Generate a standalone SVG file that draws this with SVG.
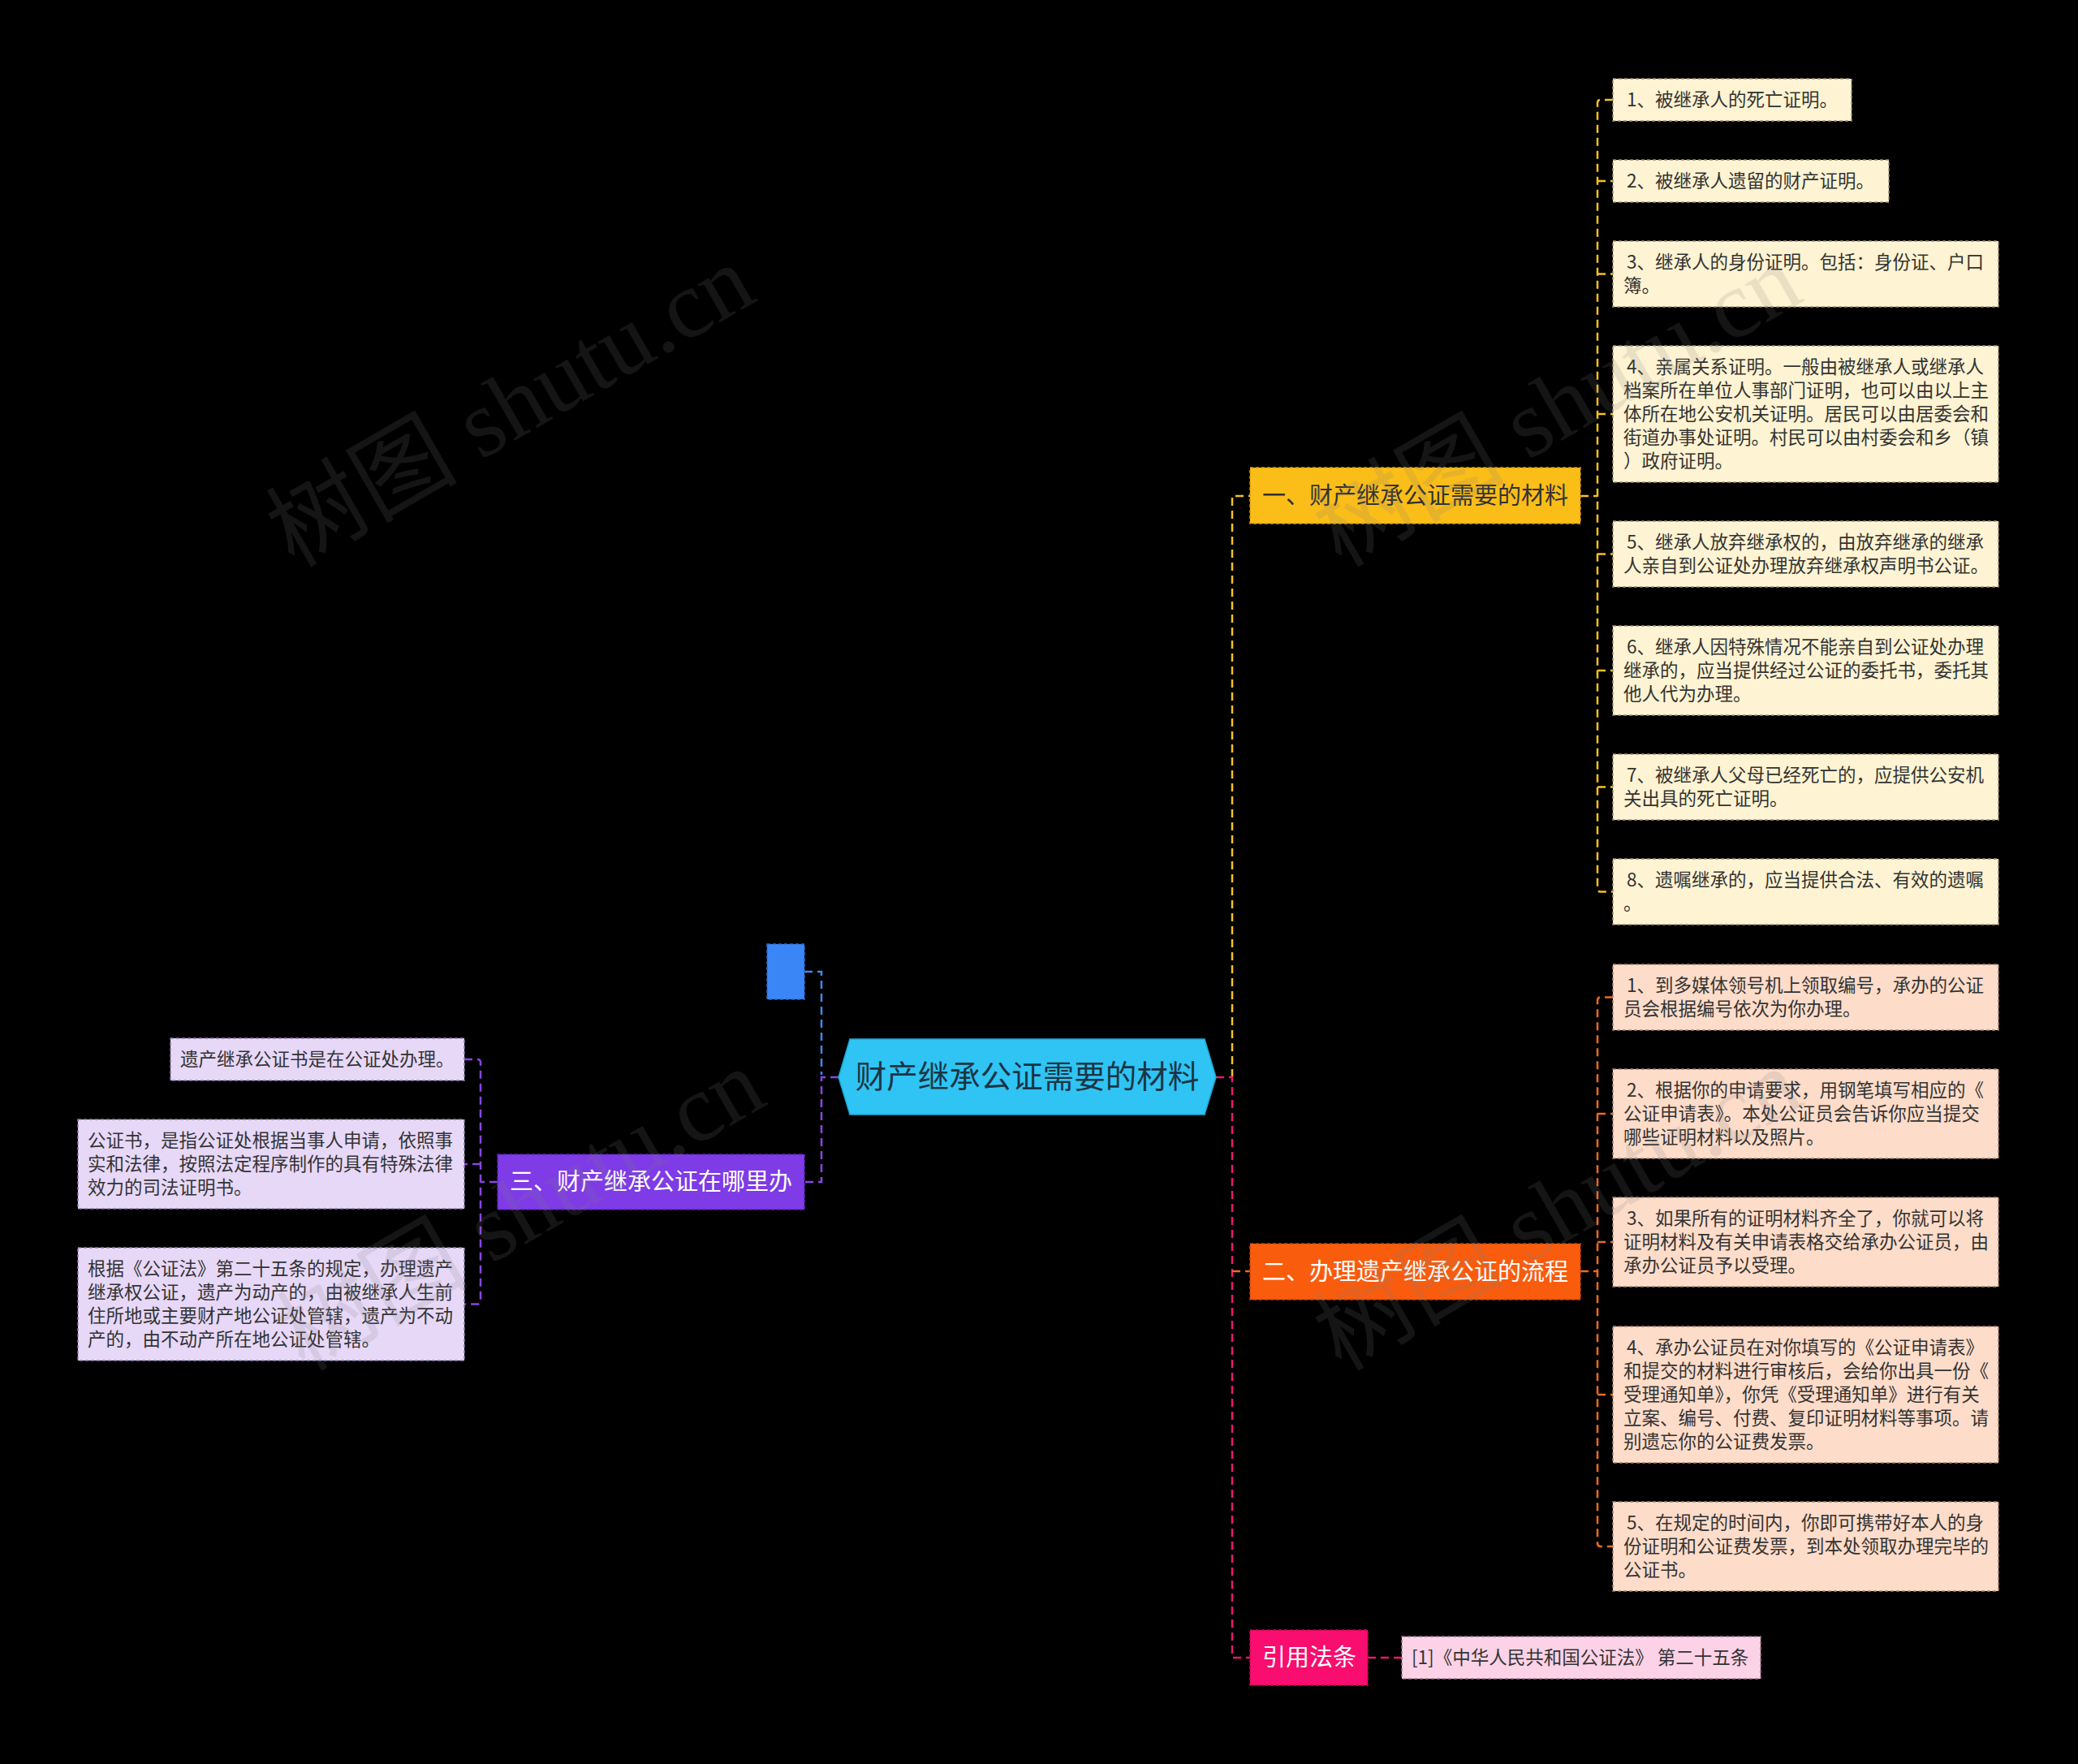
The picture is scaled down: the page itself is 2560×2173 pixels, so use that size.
<svg xmlns="http://www.w3.org/2000/svg" width="2560" height="2173" viewBox="0 0 2560 2173">
<defs>
<style>
text{font-family:"Noto Sans CJK SC","Noto Sans",sans-serif}
.leaf{font-size:22.5px;fill:#333333}
.br{font-size:29px}
.c{fill:none;stroke-width:2.5;stroke-dasharray:10 6}
.cy{stroke:#F5C21B}
.co{stroke:#F06A1C}
.cp{stroke:#E8196E}
.cv{stroke:#8A44E6}
.cb{stroke:#3F86EE}
.lb{stroke-width:1.5;stroke-dasharray:4 3}
.wm{font-family:"Liberation Serif","Noto Sans CJK SC",serif;font-size:118px;fill:#808080;opacity:0.16}
</style>
</defs>
<rect width="2560" height="2173" fill="#000000"/>

<g id="connectors">
<path class="c cy" d="M1518 1327 V611 H1540"/>
<path class="c cp" d="M1498 1327 H1518 V2042 H1540"/>
<path class="c co" d="M1518 1566 H1540"/>
<path class="c cy" d="M1947 611 H1968"/>
<path class="c cy" d="M1987 123 H1972 Q1968 123 1968 127 V1094.5 Q1968 1098.5 1972 1098.5 H1987"/>
<path class="c cy" d="M1968 223 H1987 M1968 337.5 H1987 M1968 510 H1987 M1968 682.5 H1987 M1968 826 H1987 M1968 969.5 H1987"/>
<path class="c co" d="M1947 1566 H1968"/>
<path class="c co" d="M1987 1228.5 H1972 Q1968 1228.5 1968 1232.5 V1901 Q1968 1905 1972 1905 H1987"/>
<path class="c co" d="M1968 1372 H1987 M1968 1530 H1987 M1968 1718 H1987"/>
<path class="c cp" d="M1685 2042 H1727"/>
<path class="c cb" d="M991 1197 H1012 V1324"/>
<path class="c cv" d="M1033 1327 H1012 V1456 H991"/>
<path class="c cv" d="M613 1456 H592"/>
<path class="c cv" d="M572 1305 H588 Q592 1305 592 1309 V1602.5 Q592 1606.5 588 1606.5 H572"/>
<path class="c cv" d="M592 1434 H572"/>
</g>

<g id="center">
<polygon points="1033,1327 1047,1280 1484,1280 1498,1327 1484,1373 1047,1373" fill="#2FC4F3" stroke="#1EA6D3" stroke-width="1.5"/>
<text x="1265.5" y="1340" text-anchor="middle" font-size="38.5" fill="#1B3545">财产继承公证需要的材料</text>
</g>

<g id="blue-node">
<rect x="945" y="1163" width="46" height="68" fill="#3B86F6" stroke="#2A6AD0" class="lb"/>
</g>

<g id="branch1">
<rect x="1540" y="576" width="407" height="69" fill="#FBBD18" stroke="#D69A08" class="lb"/>
<text class="br" x="1555" y="621" fill="#333333">一、财产继承公证需要的材料</text>
</g>

<g id="branch2">
<rect x="1540" y="1532" width="407" height="69" fill="#FA5C0E" stroke="#C94408" class="lb"/>
<text class="br" x="1555" y="1577" fill="#FFFFFF">二、办理遗产继承公证的流程</text>
</g>

<g id="branch3">
<rect x="613" y="1422" width="378" height="68" fill="#7E3BE6" stroke="#5F22BE" class="lb"/>
<text class="br" x="628" y="1466" fill="#FFFFFF">三、财产继承公证在哪里办</text>
</g>

<g id="cite">
<rect x="1540" y="2008" width="145" height="68" fill="#F90D6E" stroke="#C80656" class="lb"/>
<text class="br" x="1555" y="2052" fill="#FFFFFF">引用法条</text>
</g>

<g id="b1-leaf1">
<rect x="1987" y="97" width="294" height="52" fill="#FEF3D2" stroke="#9E9374" class="lb"/>
<text class="leaf" x="2004" y="131">1、被继承人的死亡证明。</text>
</g>
<g id="b1-leaf2">
<rect x="1987" y="197" width="340" height="52" fill="#FEF3D2" stroke="#9E9374" class="lb"/>
<text class="leaf" x="2004" y="231">2、被继承人遗留的财产证明。</text>
</g>
<g id="b1-leaf3">
<rect x="1987" y="297" width="475" height="81" fill="#FEF3D2" stroke="#9E9374" class="lb"/>
<text class="leaf" x="2004" y="331">3、继承人的身份证明。包括：身份证、户口</text>
<text class="leaf" x="2000" y="360">簿。</text>
</g>
<g id="b1-leaf4">
<rect x="1987" y="426" width="475" height="168" fill="#FEF3D2" stroke="#9E9374" class="lb"/>
<text class="leaf" x="2004" y="460">4、亲属关系证明。一般由被继承人或继承人</text>
<text class="leaf" x="2000" y="489">档案所在单位人事部门证明，也可以由以上主</text>
<text class="leaf" x="2000" y="518">体所在地公安机关证明。居民可以由居委会和</text>
<text class="leaf" x="2000" y="547">街道办事处证明。村民可以由村委会和乡（镇</text>
<text class="leaf" x="2000" y="576">）政府证明。</text>
</g>
<g id="b1-leaf5">
<rect x="1987" y="642" width="475" height="81" fill="#FEF3D2" stroke="#9E9374" class="lb"/>
<text class="leaf" x="2004" y="676">5、继承人放弃继承权的，由放弃继承的继承</text>
<text class="leaf" x="2000" y="705">人亲自到公证处办理放弃继承权声明书公证。</text>
</g>
<g id="b1-leaf6">
<rect x="1987" y="771" width="475" height="110" fill="#FEF3D2" stroke="#9E9374" class="lb"/>
<text class="leaf" x="2004" y="805">6、继承人因特殊情况不能亲自到公证处办理</text>
<text class="leaf" x="2000" y="834">继承的，应当提供经过公证的委托书，委托其</text>
<text class="leaf" x="2000" y="863">他人代为办理。</text>
</g>
<g id="b1-leaf7">
<rect x="1987" y="929" width="475" height="81" fill="#FEF3D2" stroke="#9E9374" class="lb"/>
<text class="leaf" x="2004" y="963">7、被继承人父母已经死亡的，应提供公安机</text>
<text class="leaf" x="2000" y="992">关出具的死亡证明。</text>
</g>
<g id="b1-leaf8">
<rect x="1987" y="1058" width="475" height="81" fill="#FEF3D2" stroke="#9E9374" class="lb"/>
<text class="leaf" x="2004" y="1092">8、遗嘱继承的，应当提供合法、有效的遗嘱</text>
<text class="leaf" x="2000" y="1121">。</text>
</g>

<g id="b2-leaf1">
<rect x="1987" y="1188" width="475" height="81" fill="#FDDCC9" stroke="#A08575" class="lb"/>
<text class="leaf" x="2004" y="1222">1、到多媒体领号机上领取编号，承办的公证</text>
<text class="leaf" x="2000" y="1251">员会根据编号依次为你办理。</text>
</g>
<g id="b2-leaf2">
<rect x="1987" y="1317" width="475" height="110" fill="#FDDCC9" stroke="#A08575" class="lb"/>
<text class="leaf" x="2004" y="1351">2、根据你的申请要求，用钢笔填写相应的《</text>
<text class="leaf" x="2000" y="1380">公证申请表》。本处公证员会告诉你应当提交</text>
<text class="leaf" x="2000" y="1409">哪些证明材料以及照片。</text>
</g>
<g id="b2-leaf3">
<rect x="1987" y="1475" width="475" height="110" fill="#FDDCC9" stroke="#A08575" class="lb"/>
<text class="leaf" x="2004" y="1509">3、如果所有的证明材料齐全了，你就可以将</text>
<text class="leaf" x="2000" y="1538">证明材料及有关申请表格交给承办公证员，由</text>
<text class="leaf" x="2000" y="1567">承办公证员予以受理。</text>
</g>
<g id="b2-leaf4">
<rect x="1987" y="1634" width="475" height="168" fill="#FDDCC9" stroke="#A08575" class="lb"/>
<text class="leaf" x="2004" y="1668">4、承办公证员在对你填写的《公证申请表》</text>
<text class="leaf" x="2000" y="1697">和提交的材料进行审核后，会给你出具一份《</text>
<text class="leaf" x="2000" y="1726">受理通知单》，你凭《受理通知单》进行有关</text>
<text class="leaf" x="2000" y="1755">立案、编号、付费、复印证明材料等事项。请</text>
<text class="leaf" x="2000" y="1784">别遗忘你的公证费发票。</text>
</g>
<g id="b2-leaf5">
<rect x="1987" y="1850" width="475" height="110" fill="#FDDCC9" stroke="#A08575" class="lb"/>
<text class="leaf" x="2004" y="1884">5、在规定的时间内，你即可携带好本人的身</text>
<text class="leaf" x="2000" y="1913">份证明和公证费发票，到本处领取办理完毕的</text>
<text class="leaf" x="2000" y="1942">公证书。</text>
</g>

<g id="cite-leaf">
<rect x="1727" y="2016" width="442" height="52" fill="#FCD2E7" stroke="#A07890" class="lb"/>
<text class="leaf" x="1739" y="2050">[1]《中华人民共和国公证法》 第二十五条</text>
</g>

<g id="b3-leaf1">
<rect x="210" y="1279" width="362" height="52" fill="#E7D8F8" stroke="#8C7EA8" class="lb"/>
<text class="leaf" x="222" y="1313">遗产继承公证书是在公证处办理。</text>
</g>
<g id="b3-leaf2">
<rect x="96" y="1379" width="476" height="110" fill="#E7D8F8" stroke="#8C7EA8" class="lb"/>
<text class="leaf" x="108" y="1413">公证书，是指公证处根据当事人申请，依照事</text>
<text class="leaf" x="108" y="1442">实和法律，按照法定程序制作的具有特殊法律</text>
<text class="leaf" x="108" y="1471">效力的司法证明书。</text>
</g>
<g id="b3-leaf3">
<rect x="96" y="1537" width="476" height="139" fill="#E7D8F8" stroke="#8C7EA8" class="lb"/>
<text class="leaf" x="108" y="1571">根据《公证法》第二十五条的规定，办理遗产</text>
<text class="leaf" x="108" y="1600">继承权公证，遗产为动产的，由被继承人生前</text>
<text class="leaf" x="108" y="1629">住所地或主要财产地公证处管辖，遗产为不动</text>
<text class="leaf" x="108" y="1658">产的，由不动产所在地公证处管辖。</text>
</g>

<g id="watermarks">
<text class="wm" transform="translate(362 700) rotate(-30)">树图 shutu.cn</text>
<text class="wm" transform="translate(1652 700) rotate(-30)">树图 shutu.cn</text>
<text class="wm" transform="translate(375 1690) rotate(-30)">树图 shutu.cn</text>
<text class="wm" transform="translate(1652 1690) rotate(-30)">树图 shutu.cn</text>
</g>
</svg>
